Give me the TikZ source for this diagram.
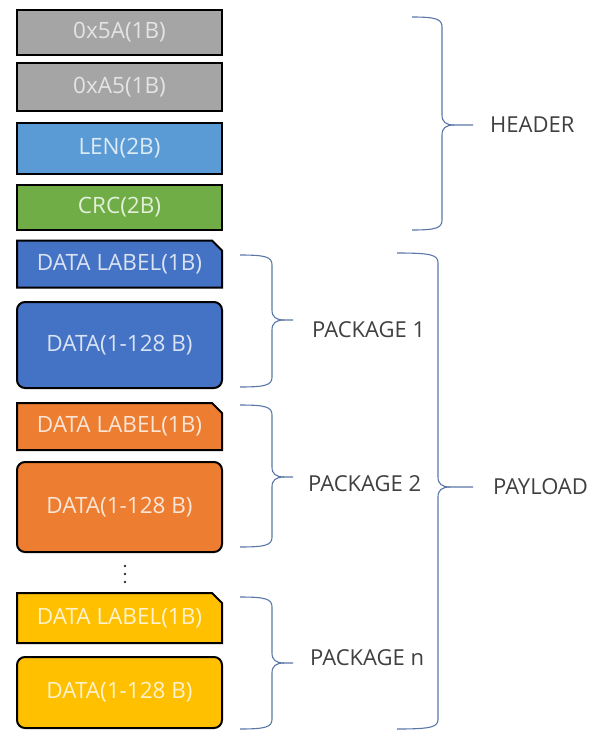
\documentclass[tikz,border=0pt]{standalone}
\usepackage{fontspec}
\setmainfont{Open Sans}
\usetikzlibrary{backgrounds}

\definecolor{hdrgray}{HTML}{A5A5A5}
\definecolor{hdrgraytxt}{HTML}{E4E4E4}
\definecolor{lenblue}{HTML}{5B9BD5}
\definecolor{lenbluetxt}{HTML}{DDEBF7}
\definecolor{crcgreen}{HTML}{70AD47}
\definecolor{crcgreentxt}{HTML}{E2F0D9}
\definecolor{pkblue}{HTML}{4472C4}
\definecolor{pkbluetxt}{HTML}{DAE3F3}
\definecolor{pkorange}{HTML}{ED7D31}
\definecolor{pkorangetxt}{HTML}{FBE5D6}
\definecolor{pkyellow}{HTML}{FFC000}
\definecolor{pkyellowtxt}{HTML}{FFF2CC}
\definecolor{bracecol}{HTML}{5A76A8}
\definecolor{labeltxt}{HTML}{404040}

% one right-pointing curly brace: name, left end, spine x, tip x, top, middle, bottom
\newcommand\curlybrace[7]{%
  \draw[bracecol, line width=1.1pt]
    ({#2},{#5}) .. controls ({#3-6},{#5}) and ({#3},{#5+2}) .. ({#3},{#5+10})
    -- ({#3},{#6-10}) .. controls ({#3},{#6-3}) and ({#3+4},{#6}) .. ({#3+12},{#6})
    -- ({#4},{#6});
  \draw[bracecol, line width=1.1pt]
    ({#3+12},{#6}) .. controls ({#3+4},{#6}) and ({#3},{#6+3}) .. ({#3},{#6+10})
    -- ({#3},{#7-10}) .. controls ({#3},{#7-2}) and ({#3-6},{#7}) .. ({#2},{#7});
  \coordinate (#1) at ({#4},{#6});
}

% box with its top right corner cut off, drawn behind the named node
\newcommand\tagoutline[2]{%
  \begin{pgfonlayer}{background}
    \filldraw[fill=#2, draw=black, line width=2pt, line join=miter]
      (#1.south west) -- (#1.north west) -- ([xshift=-10pt]#1.north east)
      -- ([yshift=-10pt]#1.north east) -- (#1.south east) -- cycle;
  \end{pgfonlayer}}

\tikzset{
  cell/.style={line width=2pt, minimum width=205pt, inner sep=0pt, outer sep=0pt,
    font=\fontsize{22.5}{25}\selectfont},
  flatcell/.style={cell, draw=black, rectangle},
  roundcell/.style={cell, draw=black, rectangle, rounded corners=8pt},
  tagcell/.style={cell, rectangle},
  grouptext/.style={anchor=west, text=labeltxt, font=\fontsize{22}{25}\selectfont, inner sep=0pt},
}

\begin{document}
\begin{tikzpicture}[x=1pt, y=-1pt]
  \useasboundingbox (0,0) rectangle (598,731);

  % header fields
  \node[flatcell, fill=hdrgray, text=hdrgraytxt, minimum height=45pt] (sync1) at (119.5,32.5) {0x5A(1B)};
  \node[flatcell, fill=hdrgray, text=hdrgraytxt, minimum height=48pt] (sync2) at (119.5,87) {0xA5(1B)};
  \node[flatcell, fill=lenblue, text=lenbluetxt, minimum height=51pt] (len) at (119.5,148.5) {LEN(2B)};
  \node[flatcell, fill=crcgreen, text=crcgreentxt, minimum height=45pt] (crc) at (119.5,207.5) {CRC(2B)};

  % package 1
  \node[tagcell, text=pkbluetxt, minimum height=47pt] (tag1) at (119.5,264) {DATA LABEL(1B)};
  \tagoutline{tag1}{pkblue}
  \node[roundcell, fill=pkblue, text=pkbluetxt, minimum height=86pt] (data1) at (119.5,345) {DATA(1-128 B)};

  % package 2
  \node[tagcell, text=pkorangetxt, minimum height=47pt] (tag2) at (119.5,426.5) {DATA LABEL(1B)};
  \tagoutline{tag2}{pkorange}
  \node[roundcell, fill=pkorange, text=pkorangetxt, minimum height=90pt] (data2) at (119.5,507) {DATA(1-128 B)};

  % continuation dots
  \foreach \yy in {566,574,582} \fill[black!80] (125,\yy) circle (1.3pt);
  \coordinate (gap) at (125,574);

  % package n
  \node[tagcell, text=pkyellowtxt, minimum height=50pt] (tagn) at (119.5,618) {DATA LABEL(1B)};
  \tagoutline{tagn}{pkyellow}
  \node[roundcell, fill=pkyellow, text=pkyellowtxt, minimum height=71pt] (datan) at (119.5,692.5) {DATA(1-128 B)};

  % grouping braces
  \curlybrace{hdrtip}{412}{442}{473}{17}{125}{230}
  \curlybrace{paytip}{397}{438}{473}{253}{487}{729}
  \curlybrace{p1tip}{240}{272}{293}{255}{320}{387}
  \curlybrace{p2tip}{240}{272}{293}{405}{477}{547}
  \curlybrace{pntip}{240}{272}{293}{597}{663}{729}

  \node[grouptext] (hdr) at ([xshift=17pt]hdrtip) {HEADER};
  \node[grouptext] (pay) at ([xshift=20pt]paytip) {PAYLOAD};
  \node[grouptext] (pk1) at ([xshift=19pt,yshift=-10pt]p1tip) {PACKAGE 1};
  \node[grouptext] (pk2) at ([xshift=15pt,yshift=-7pt]p2tip) {PACKAGE 2};
  \node[grouptext] (pkn) at ([xshift=17pt,yshift=5pt]pntip) {PACKAGE n};
\end{tikzpicture}
\end{document}
